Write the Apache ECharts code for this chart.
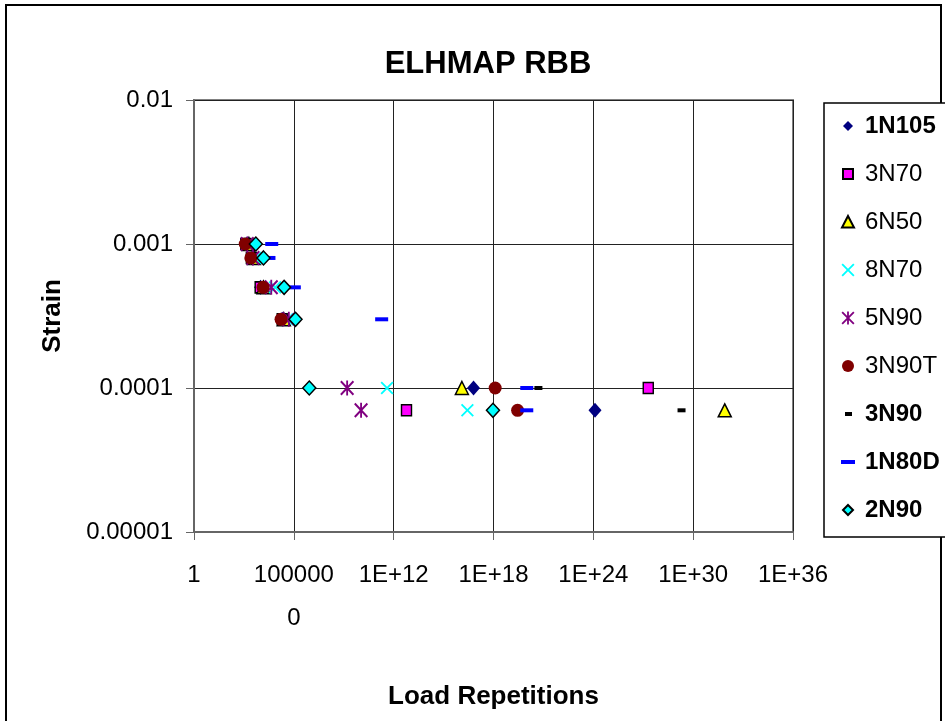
<!DOCTYPE html>
<html>
<head>
<meta charset="utf-8">
<script src="https://cdn.jsdelivr.net/npm/echarts@6/dist/echarts.min.js"></script>
<style>
html,body{margin:0;padding:0;background:#fff;}
#chart{width:945px;height:721px;}
</style>
</head>
<body>
<div id="chart"></div>
<script>
// ---- data ----
const chartTitle = 'ELHMAP RBB';
const xAxisTitle = 'Load Repetitions';
const yAxisTitle = 'Strain';
const xTickLabels = ['1', '100000\n0', '1E+12', '1E+18', '1E+24', '1E+30', '1E+36'];
const yTickLabels = ['0.00001', '0.0001', '0.001', '0.01'];
const seriesNames = ['1N105', '3N70', '6N50', '8N70', '5N90', '3N90T', '3N90', '1N80D', '2N90'];
const strainLevels = [0.001, 0.0008, 0.0005, 0.0003, 0.0001, 0.00007];
const reps_1N105 = [1.6e3, 3.2e3, 1.0e4, 2.0e5, 6.3e16, 1.26e24];
const reps_3N70  = [1.3e3, 2.8e3, 9.5e3, 2.0e5, 2.0e27, 5.9e12];
const reps_6N50  = [2.0e3, 4.0e3, 1.5e4, 2.5e5, 1.26e16, 7.9e31];
const reps_8N70  = [2.5e3, 5.0e3, 7.5e4, 4.0e5, 4.0e11, 2.7e16];
const reps_5N90  = [1.6e3, 3.5e3, 4.4e4, 5.0e5, 1.6e9, 1.1e10];
const reps_3N90T = [1.2e3, 2.6e3, 1.4e4, 1.7e5, 1.26e18, 2.8e19];
const reps_3N90  = [5.2e3, 1.5e4, 2.6e5, 1.26e6, 5.0e20, 2.0e29];
const reps_1N80D = [4.7e4, 3.2e4, 1.07e6, 1.9e11, 1.0e20, 1.0e20];
const reps_2N90  = [5.2e3, 1.5e4, 2.6e5, 1.26e6, 8.5e6, 9.3e17];
const boldLegend = ['1N105', '3N90', '1N80D', '2N90'];

// ---- styles ----
const FONT = '"Liberation Sans", Arial, sans-serif';
const X_PATH = 'M0,1L1,0L5,4L9,0L10,1L6,5L10,9L9,10L5,6L1,10L0,9L4,5Z';
const STAR_PATH = X_PATH + 'M4.35,0H5.65V10H4.35Z';
const FRAME = 'M0,0M24,13';
const LX = 'M5.5,1.3L6.8,0L12,5.2L17.2,0L18.5,1.3L13.3,6.5L18.5,11.7L17.2,13L12,7.8L6.8,13L5.5,11.7L10.7,6.5Z';
const styles = {
  '1N105': {symbol:'diamond', size:[13,15], color:'#000080', legend:'M12,1.5L17,6.5L12,11.5L7,6.5Z'},
  '3N70':  {symbol:'rect', size:[10,11], color:'#FF00FF', border:'#000', legend:'M7,1.5H17V11.5H7Z'},
  '6N50':  {symbol:'triangle', size:[13,13], color:'#FFFF00', border:'#000', legend:'M12,0.5L18,12L6,12Z'},
  '8N70':  {symbol:'path://' + X_PATH, size:[13,13], color:'#00FFFF', legend:LX},
  '5N90':  {symbol:'path://' + STAR_PATH, size:[14,15], color:'#800080', legend:LX + 'M11.1,0H12.9V13H11.1Z'},
  '3N90T': {symbol:'circle', size:13, color:'#800000', legend:'M12,0.5A6,6 0 1,1 12,12.5A6,6 0 1,1 12,0.5Z'},
  '3N90':  {symbol:'rect', size:[8,4], color:'#000000', legend:'M9,4.5H16V8.5H9Z'},
  '1N80D': {symbol:'rect', size:[13,4], color:'#0000FF', legend:'M5,4.5H19V8.5H5Z'},
  '2N90':  {symbol:'diamond', size:[13,14], color:'#00FFFF', border:'#000', legend:'M12,1.5L17,6.5L12,11.5L7,6.5Z'}
};
const repsByName = {
  '1N105': reps_1N105, '3N70': reps_3N70, '6N50': reps_6N50, '8N70': reps_8N70,
  '5N90': reps_5N90, '3N90T': reps_3N90T, '3N90': reps_3N90, '1N80D': reps_1N80D, '2N90': reps_2N90
};

const chart = echarts.init(document.getElementById('chart'), null, {renderer: 'canvas'});

const series = seriesNames.map(function (name) {
  const s = styles[name];
  const reps = repsByName[name];
  return {
    name: name,
    type: 'scatter',
    symbol: s.symbol,
    symbolSize: s.size,
    itemStyle: {
      color: s.color,
      borderColor: s.border || s.color,
      borderWidth: s.border ? 1.5 : 0,
      opacity: 1
    },
    emphasis: {disabled: true},
    data: reps.map(function (r, i) { return [r, strainLevels[i]]; })
  };
});

const legendData = seriesNames.map(function (name) {
  return {
    name: name,
    icon: 'path://' + FRAME + styles[name].legend,
    textStyle: {fontWeight: boldLegend.indexOf(name) >= 0 ? 'bold' : 'normal'}
  };
});

const option = {
  animation: false,
  backgroundColor: '#ffffff',
  textStyle: {fontFamily: FONT},
  title: {
    text: chartTitle,
    left: 483,
    top: 44,
    textAlign: 'center',
    textStyle: {fontFamily: FONT, fontSize: 31, fontWeight: 'bold', color: '#000'}
  },
  graphic: [
    {type: 'rect', z: 0, silent: true, shape: {x: 6, y: 5, width: 935, height: 730},
     style: {fill: 'none', stroke: '#000', lineWidth: 2}},
    {type: 'rect', z: 1, silent: true, shape: {x: 824, y: 103, width: 140, height: 434},
     style: {fill: '#fff', stroke: '#000', lineWidth: 1.5}}
  ],
  legend: {
    orient: 'vertical',
    left: 835,
    top: 114,
    padding: 0,
    itemWidth: 24,
    itemHeight: 13,
    itemGap: 24,
    selectedMode: false,
    z: 5,
    textStyle: {fontFamily: FONT, fontSize: 24, color: '#000', lineHeight: 24},
    data: legendData
  },
  grid: {
    left: 194, right: 152, top: 100, bottom: 189,
    containLabel: false,
    outerBoundsMode: 'none',
    show: true,
    borderColor: '#808080',
    borderWidth: 2,
    backgroundColor: '#fff'
  },
  xAxis: {
    type: 'log',
    logBase: 1000000,
    min: 1,
    max: 1e36,
    splitNumber: 6,
    name: xAxisTitle,
    nameLocation: 'middle',
    nameGap: 152,
    nameTextStyle: {fontFamily: FONT, fontSize: 26, fontWeight: 'bold', color: '#000'},
    axisLine: {show: true, lineStyle: {color: '#666', width: 2}},
    axisTick: {show: true, inside: false, length: 8, lineStyle: {color: '#666', width: 1}},
    minorTick: {show: false},
    splitLine: {show: true, lineStyle: {color: '#222', width: 1}},
    axisLabel: {
      margin: 21.5,
      fontFamily: FONT, fontSize: 24, color: '#000', lineHeight: 43,
      formatter: function (v) {
        const idx = Math.round(Math.log10(v) / 6);
        return xTickLabels[idx] !== undefined ? xTickLabels[idx] : '';
      }
    }
  },
  yAxis: {
    type: 'log',
    logBase: 10,
    min: 0.00001,
    max: 0.01,
    name: yAxisTitle,
    nameLocation: 'middle',
    nameGap: 128,
    nameTextStyle: {fontFamily: FONT, fontSize: 26, fontWeight: 'bold', color: '#000'},
    axisLine: {show: true, lineStyle: {color: '#666', width: 2}},
    axisTick: {show: true, inside: false, length: 8, lineStyle: {color: '#666', width: 1}},
    minorTick: {show: false},
    splitLine: {show: true, lineStyle: {color: '#222', width: 1}},
    axisLabel: {
      margin: 21,
      fontFamily: FONT, fontSize: 24, color: '#000',
      formatter: function (v) {
        const idx = Math.round(Math.log10(v)) + 5;
        return yTickLabels[idx] !== undefined ? yTickLabels[idx] : '';
      }
    }
  },
  series: series
};

chart.setOption(option);
</script>
</body>
</html>
